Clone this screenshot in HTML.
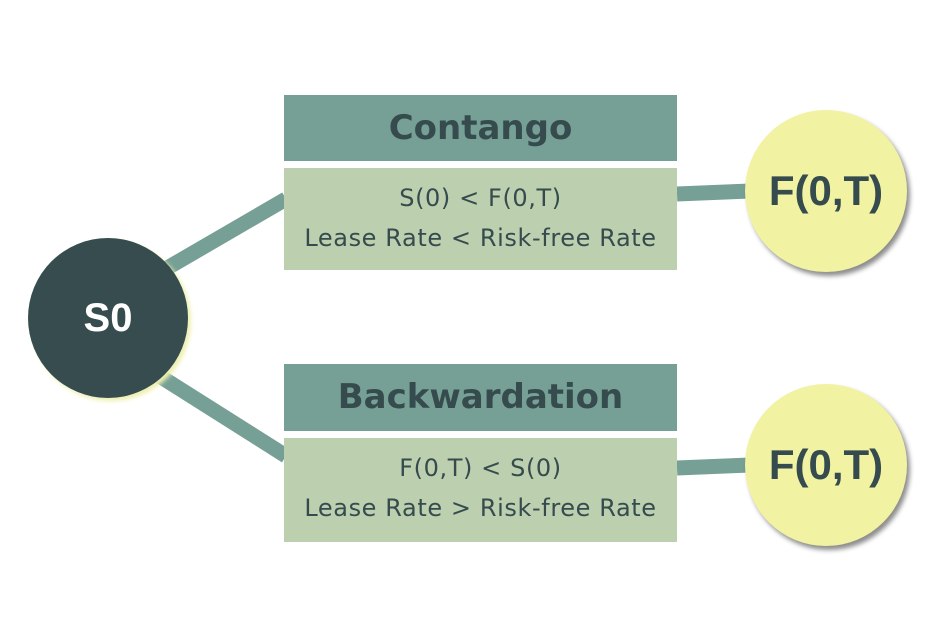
<!DOCTYPE html>
<html><head><style>
body{margin:0;width:951px;height:628px;background:#fff;overflow:hidden;position:relative;font-family:"DejaVu Sans","Liberation Sans",sans-serif}
.h{position:absolute;left:284px;width:393px;background:#76a096;color:#354b4d;font-weight:bold;font-size:34px;text-align:center}
.b{position:absolute;left:284px;width:393px;background:#bccfaf;color:#354b4d;font-size:24px;letter-spacing:0.6px;text-align:center;line-height:40px}
.c{position:absolute;border-radius:50%;display:flex;align-items:center;justify-content:center;font-weight:bold;font-family:"Liberation Sans",sans-serif}
</style></head><body>
<svg width="951" height="628" style="position:absolute;left:0;top:0">
<g stroke="#76a096" stroke-width="15">
<line x1="150" y1="278" x2="286" y2="199"/>
<line x1="150" y1="370" x2="286" y2="456"/>
<line x1="677" y1="194" x2="750" y2="191"/>
<line x1="677" y1="468" x2="750" y2="465"/>
</g></svg>
<div class="h" style="top:95px;height:66px;line-height:66px">Contango</div>
<div class="b" style="top:168px;height:102px;padding-top:10px;box-sizing:border-box">S(0) &lt; F(0,T)<br>Lease Rate &lt; Risk-free Rate</div>
<div class="h" style="top:364px;height:67px;line-height:67px">Backwardation</div>
<div class="b" style="top:438px;height:104px;padding-top:10px;box-sizing:border-box">F(0,T) &lt; S(0)<br>Lease Rate &gt; Risk-free Rate</div>
<div class="c" style="left:28px;top:238px;width:160px;height:160px;background:#364c4e;color:#fff;font-size:40px;box-shadow:3px 3px 4px #eef0b0">S0</div>
<div class="c" style="left:745px;top:110px;width:162px;height:162px;background:#f1f2a2;color:#354b4d;font-size:42px;box-shadow:3px 4px 5px rgba(0,0,0,.45)">F(0,T)</div>
<div class="c" style="left:745px;top:384px;width:162px;height:162px;background:#f1f2a2;color:#354b4d;font-size:42px;box-shadow:3px 4px 5px rgba(0,0,0,.45)">F(0,T)</div>
</body></html>
